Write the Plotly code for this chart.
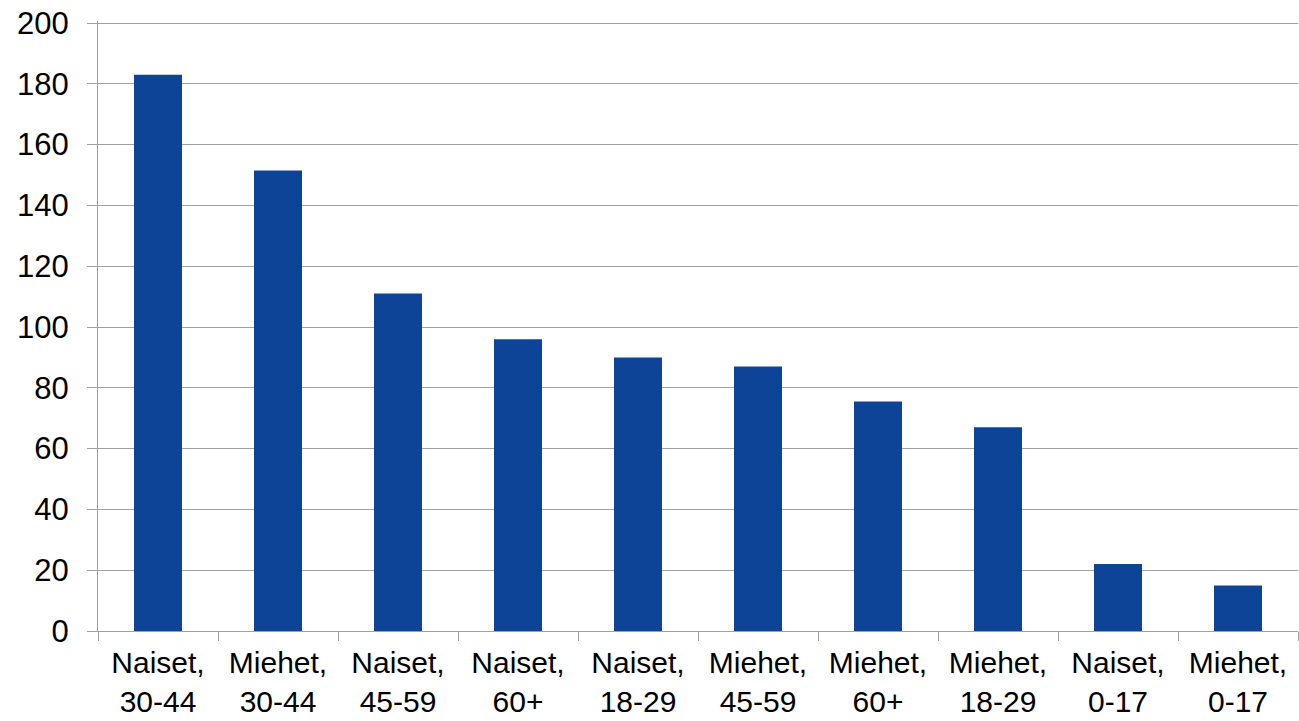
import plotly.graph_objects as go

categories = ["Naiset,<br>30-44", "Miehet,<br>30-44", "Naiset,<br>45-59", "Naiset,<br>60+",
              "Naiset,<br>18-29", "Miehet,<br>45-59", "Miehet,<br>60+", "Miehet,<br>18-29",
              "Naiset,<br>0-17", "Miehet,<br>0-17"]
values = [183, 151.5, 111, 96, 90, 87, 75.5, 67, 22, 15]
y_ticks = [0, 20, 40, 60, 80, 100, 120, 140, 160, 180, 200]

fig = go.Figure(go.Bar(x=categories, y=values, marker_color="#0E4497",
                       marker_line_width=0, width=0.4))

fig.update_layout(
    width=1299, height=721,
    margin=dict(l=98, r=1, t=21, b=90),
    paper_bgcolor="white", plot_bgcolor="white",
    font=dict(family="Liberation Sans, Arial", size=31, color="black"),
    showlegend=False,
)
fig.update_xaxes(
    tickson="boundaries", ticks="outside", ticklen=9, tickcolor="#A0A0A0",
    showline=True, linecolor="#A0A0A0", linewidth=1, showgrid=False,
    tickangle=0, automargin=False, ticklabelstandoff=5,
    tickfont=dict(size=30),
)
fig.update_yaxes(
    range=[0, 200.66], tickvals=y_ticks, ticks="outside", ticklen=10, tickcolor="#A0A0A0",
    showline=True, linecolor="#A0A0A0", linewidth=1,
    showgrid=True, gridcolor="#A0A0A0", gridwidth=1, zeroline=False,
    ticklabelstandoff=12, automargin=False,
)
fig.write_html("out.html", config={"displayModeBar": False},
               post_script="document.body.style.margin='0';document.body.style.overflow='hidden';")
